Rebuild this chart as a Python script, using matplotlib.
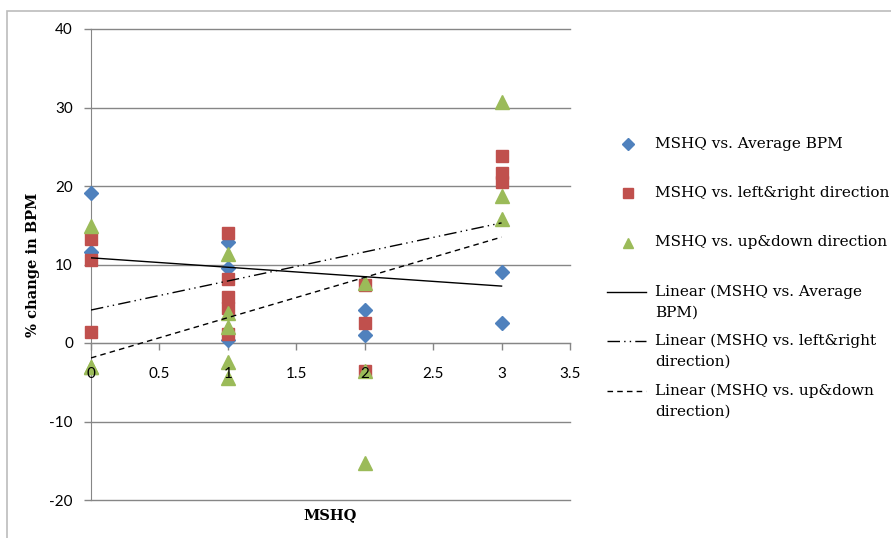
import matplotlib
matplotlib.use("Agg")
import matplotlib.pyplot as plt
import numpy as np
from matplotlib.lines import Line2D
from matplotlib.patches import Rectangle

plt.rcParams["axes.unicode_minus"] = False

# data
avg_x = [0, 0, 1, 1, 1, 2, 2, 3, 3]
avg_y = [19.1, 11.6, 12.9, 9.5, 0.4, 4.2, 1.0, 9.0, 2.6]

lr_x = [0, 0, 0, 1, 1, 1, 1, 1, 2, 2, 2, 3, 3, 3]
lr_y = [13.2, 10.6, 1.4, 14.05, 8.2, 5.8, 4.4, 1.15, 7.4, 2.5, -3.6, 23.8, 21.7, 20.5]

ud_x = [0, 0, 0, 1, 1, 1, 1, 1, 2, 2, 2, 3, 3, 3]
ud_y = [14.9, -3.0, -3.1, 11.3, 3.8, 2.1, -2.4, -4.5, 7.6, -3.6, -15.3, 30.7, 18.7, 15.8]

# trendline (intercept, slope) as drawn in the chart
trend_avg = (10.85, -1.2)
trend_lr = (4.2, 3.7)
trend_ud = (-1.9, 5.13)
trend_range = [0, 3]

x_ticks = [0, 0.5, 1, 1.5, 2, 2.5, 3, 3.5]
x_ticklabels = ["0", "0.5", "1", "1.5", "2", "2.5", "3", "3.5"]

blue = "#4F81BD"
red = "#C0504D"
green = "#9BBB59"
grey = "#868686"

W, H = 891, 538
fig = plt.figure(figsize=(W / 100, H / 100), dpi=100)

# outer chart frame (partly off the image)
fig.add_artist(Rectangle((7 / W, -0.05), 1.1, 1 - 11 / H + 0.05, transform=fig.transFigure,
                         fill=False, ec="#bcbcbc", lw=1.2))

ax = fig.add_axes([91 / W, 1 - 500 / H, 479 / W, 471 / H])
ax.set_xlim(0, 3.5)
ax.set_ylim(-20, 40)
ax.set_yticks(np.arange(-20, 41, 10))
ax.set_xticks(x_ticks)
ax.set_xticklabels([])

ax.yaxis.grid(True, color=grey, lw=1)
for gl in ax.get_ygridlines():
    gl.set_clip_on(False)
ax.set_axisbelow(True)
for s in ["top", "right"]:
    ax.spines[s].set_visible(False)
ax.spines["bottom"].set_position(("data", 0))
ax.spines["bottom"].set_color(grey)
ax.spines["left"].set_color(grey)
ax.tick_params(axis="both", colors=grey, length=5, width=1, labelcolor="black",
               labelsize=11)
ax.tick_params(axis="y", pad=8)
for lab in ax.get_yticklabels():
    lab.set_family("Lato")

# x tick labels sit on top of the markers, as in the original
for xt, lab in zip(x_ticks, x_ticklabels):
    ax.annotate(lab, (xt, 0), xytext=(0, -22), textcoords="offset points",
                ha="center", va="center", family="Lato", fontsize=11, zorder=10,
                annotation_clip=False)

ax.plot(avg_x, avg_y, "D", color=blue, ms=7.2, mec=blue, clip_on=False, zorder=3)
ax.plot(lr_x, lr_y, "s", color=red, ms=8.6, mec=red, clip_on=False, zorder=4)
ax.plot(ud_x, ud_y, "^", color=green, ms=9.4, mec=green, clip_on=False, zorder=5)

tx = np.array(trend_range, dtype=float)
ax.plot(tx, trend_avg[0] + trend_avg[1] * tx, color="black", lw=1, zorder=6)
ax.plot(tx, trend_lr[0] + trend_lr[1] * tx, color="black", lw=1,
        ls=(0, (9, 3, 1, 3, 1, 3)), zorder=6)
ax.plot(tx, trend_ud[0] + trend_ud[1] * tx, color="black", lw=1,
        ls=(0, (4, 3)), zorder=6)

ax.set_ylabel("% change in BPM", family="DejaVu Serif", fontweight="bold", fontsize=10.5)
ax.yaxis.set_label_coords((40 - 91) / 479, 0.5)
ax.text(0.5, -15 / 471, "MSHQ", transform=ax.transAxes, ha="center", va="center",
        family="DejaVu Serif", fontweight="bold", fontsize=10.5)

# legend, laid out like the original
def fx(px):
    return px / W

def fy(py):
    return 1 - py / H

leg_font = dict(family="DejaVu Serif", fontsize=11, va="center", ha="left")
fig.add_artist(Line2D([fx(628)], [fy(144)], marker="D", color=blue, ms=6.3, ls="none",
                      transform=fig.transFigure))
fig.text(fx(655), fy(144), "MSHQ vs. Average BPM", **leg_font)
fig.add_artist(Line2D([fx(628)], [fy(193)], marker="s", color=red, ms=7.2, ls="none",
                      transform=fig.transFigure))
fig.text(fx(655), fy(193), "MSHQ vs. left&right direction", **leg_font)
fig.add_artist(Line2D([fx(628)], [fy(243)], marker="^", color=green, ms=7.5, ls="none",
                      transform=fig.transFigure))
fig.text(fx(655), fy(242), "MSHQ vs. up&down direction", **leg_font)

line_entries = [
    ("-", 292, ["Linear (MSHQ vs. Average", "BPM)"]),
    ((0, (9, 3, 1, 3, 1, 3)), 341, ["Linear (MSHQ vs. left&right", "direction)"]),
    ((0, (4, 3)), 391, ["Linear (MSHQ vs. up&down", "direction)"]),
]
for ls, py, lines in line_entries:
    fig.add_artist(Line2D([fx(607), fx(646)], [fy(py), fy(py)], color="black", lw=1,
                          ls=ls, transform=fig.transFigure))
    for k, t in enumerate(lines):
        fig.text(fx(655), fy(py + 20.5 * k), t, **leg_font)

fig.savefig("out.png", dpi=100)
